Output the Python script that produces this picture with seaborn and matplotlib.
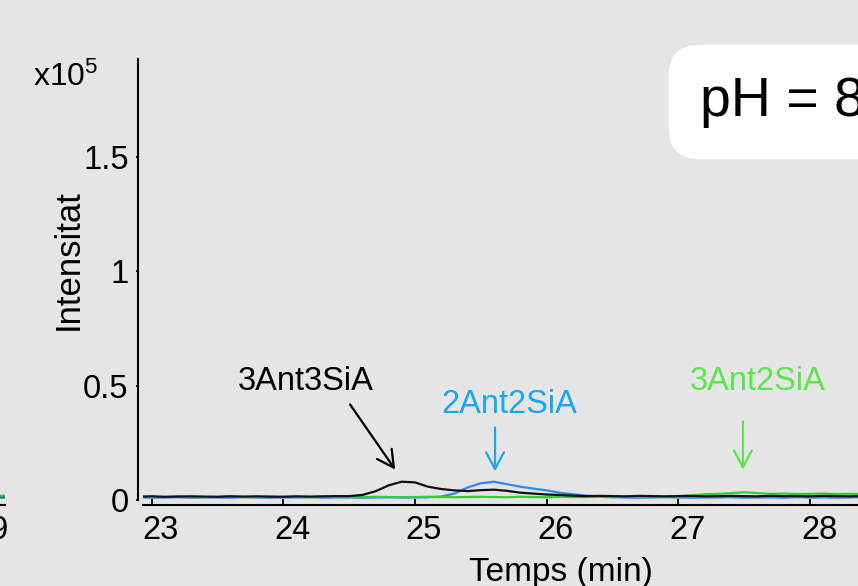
import numpy as np
import pandas as pd
import matplotlib.pyplot as plt
import seaborn as sns
from matplotlib.transforms import ScaledTranslation

# retention time grid (min); intensities in units of 1e5
temps = np.round(np.arange(22.9, 29.31, 0.1), 1)

int_3ant3sia = [0.015, 0.016, 0.014, 0.015, 0.016, 0.015, 0.014, 0.016, 0.015, 0.016,
                0.015, 0.014, 0.016, 0.015, 0.016, 0.017, 0.017,
                0.022, 0.038, 0.064, 0.080, 0.077, 0.058, 0.048, 0.042, 0.039, 0.043,
                0.045, 0.040, 0.032, 0.028, 0.024, 0.022, 0.019, 0.017, 0.018,
                0.017, 0.016, 0.018, 0.017, 0.016, 0.017, 0.018, 0.016, 0.017, 0.018,
                0.017, 0.016, 0.018, 0.017, 0.017, 0.016, 0.018, 0.017, 0.016, 0.017,
                0.018, 0.016, 0.017, 0.017, 0.016, 0.018, 0.017, 0.016, 0.017]

int_2ant2sia = [0.011, 0.010, 0.011, 0.012, 0.010, 0.011, 0.011, 0.010, 0.012, 0.011,
                0.010, 0.011, 0.011, 0.012, 0.010, 0.011, 0.011, 0.010, 0.011, 0.012,
                0.011, 0.011, 0.012,
                0.015, 0.028, 0.055, 0.073, 0.080, 0.069, 0.058, 0.050, 0.042, 0.032,
                0.025, 0.019, 0.015,
                0.012, 0.011, 0.010, 0.011, 0.012, 0.011, 0.010, 0.011, 0.011, 0.012,
                0.010, 0.011, 0.011, 0.010, 0.012, 0.011, 0.011, 0.010, 0.011, 0.012,
                0.011, 0.010, 0.011, 0.011, 0.012, 0.010, 0.011, 0.011, 0.010]

int_3ant2sia = [0.013, 0.014, 0.013, 0.016, 0.013, 0.012, 0.014, 0.016, 0.013, 0.012,
                0.013, 0.014, 0.013, 0.012, 0.014, 0.013, 0.013, 0.012, 0.014, 0.013,
                0.012, 0.013, 0.014, 0.013, 0.012, 0.013, 0.014, 0.013, 0.012, 0.014,
                0.013, 0.012, 0.014, 0.013, 0.013, 0.014, 0.013, 0.015, 0.014, 0.015,
                0.016,
                0.017, 0.020, 0.025, 0.027, 0.030, 0.034, 0.030, 0.027, 0.028, 0.026,
                0.027, 0.028, 0.026, 0.027, 0.026, 0.028, 0.027, 0.026, 0.027, 0.026,
                0.027, 0.026, 0.027, 0.026]

# right end of the neighbouring panel, only a sliver is visible
temps_prev = [28.8, 28.9, 29.0, 29.1, 29.2]
prev_3ant3sia = [0.016, 0.017, 0.016, 0.016, 0.017]
prev_2ant2sia = [0.011, 0.010, 0.011, 0.011, 0.010]
prev_3ant2sia = [0.018, 0.019, 0.018, 0.018, 0.019]

colors = {'2Ant2SiA': '#2a8cf0', '3Ant2SiA': '#33cc33', '3Ant3SiA': '#111111'}
text_colors = {'2Ant2SiA': '#1aa8ec', '3Ant2SiA': '#5ae64c', '3Ant3SiA': 'black'}


def long_df(t, series):
    parts = [pd.DataFrame({'temps': t, 'intensitat': v, 'compost': k})
             for k, v in series.items()]
    return pd.concat(parts, ignore_index=True)


df = long_df(temps, {'3Ant3SiA': int_3ant3sia, '2Ant2SiA': int_2ant2sia,
                     '3Ant2SiA': int_3ant2sia})
df_prev = long_df(temps_prev, {'3Ant3SiA': prev_3ant3sia, '2Ant2SiA': prev_2ant2sia,
                               '3Ant2SiA': prev_3ant2sia})

bg = '#e5e5e5'
sns.set_style('ticks', {'axes.facecolor': bg, 'figure.facecolor': bg,
                        'axes.edgecolor': 'black', 'text.color': 'black',
                        'axes.labelcolor': 'black', 'xtick.color': 'black',
                        'ytick.color': 'black'})
plt.rcParams['font.family'] = ['Liberation Sans', 'DejaVu Sans']
plt.rcParams['mathtext.fontset'] = 'custom'
plt.rcParams['mathtext.rm'] = 'Liberation Sans'
plt.rcParams['mathtext.default'] = 'regular'

fig = plt.figure(figsize=(8.58, 5.86), dpi=100)
ax = fig.add_axes([0.16667, 0.14676, 0.97436, 0.75205])
ax0 = fig.add_axes([-0.2914, 0.14676, 0.2972, 0.75205])

panels = ((ax, df, ['2Ant2SiA', '3Ant2SiA', '3Ant3SiA']),
          (ax0, df_prev, ['2Ant2SiA', '3Ant3SiA', '3Ant2SiA']))
for a, d, order in panels:
    sns.lineplot(data=d, x='temps', y='intensitat', hue='compost', hue_order=order,
                 palette=colors, lw=1.6, legend=False, estimator=None, sort=False, ax=a)
    a.set_ylim(0, 1.927)
    a.set_yticks([0, 0.5, 1, 1.5], ['0', '0.5', '1', '1.5'])
    a.tick_params(axis='x', direction='in', length=4.5, width=1.3, labelsize=23.5, pad=7)
    a.tick_params(axis='y', direction='out', length=1.5, width=1.3, labelsize=23.5, pad=5)
    for s in a.spines.values():
        s.set_linewidth(1.5)
    a.set_xlabel('')
    a.set_ylabel('')

ax.set_xlim(22.935, 29.283)
ax.set_xticks([23, 24, 25, 26, 27, 28])
ax0.set_xlim(27.24, 29.175)
ax0.set_xticks([28, 29])
ax0.set_yticks([])

sns.despine(ax=ax, offset=3.8)
sns.despine(ax=ax0, offset=3.8, left=True)

# tick labels sit a little to the right of their ticks
shift = ScaledTranslation(0.09, 0, fig.dpi_scale_trans)
for a in (ax, ax0):
    for tk in a.xaxis.get_major_ticks():
        tk.label1.set_transform(tk.label1.get_transform() + shift)

ax.set_xlabel('Temps (min)', fontsize=24, labelpad=8)
fig.text(68 / 858, 1 - 260 / 586, 'Intensitat', rotation=90, ha='center',
         va='center', fontsize=25)
fig.text(33 / 858, 1 - 86 / 586, 'x10$^{5}$', ha='left', va='baseline', fontsize=23)

# peak labels and arrows
labels = [('3Ant3SiA', 24.17, 0.48, (24.507, 0.418), (24.85, 0.133)),
          ('2Ant2SiA', 25.72, 0.381, (25.608, 0.317), (25.608, 0.125)),
          ('3Ant2SiA', 27.60, 0.483, (27.49, 0.343), (27.49, 0.133))]
for name, tx, ty, tail, head in labels:
    ax.text(tx, ty, name, ha='center', va='baseline', fontsize=23.5,
            color=text_colors[name])
    ax.annotate('', xy=head, xytext=tail,
                arrowprops=dict(arrowstyle='->,head_length=0.6,head_width=0.32',
                                color=text_colors[name], lw=1.6, mutation_scale=20,
                                shrinkA=0, shrinkB=0))

fig.text(700 / 858, 1 - 102 / 586, 'pH = 8', ha='left', va='center', fontsize=40,
         bbox=dict(boxstyle='round,pad=0.56,rounding_size=0.55', fc='white', ec='none'))

fig.savefig('out.png', dpi=100, facecolor=bg)
